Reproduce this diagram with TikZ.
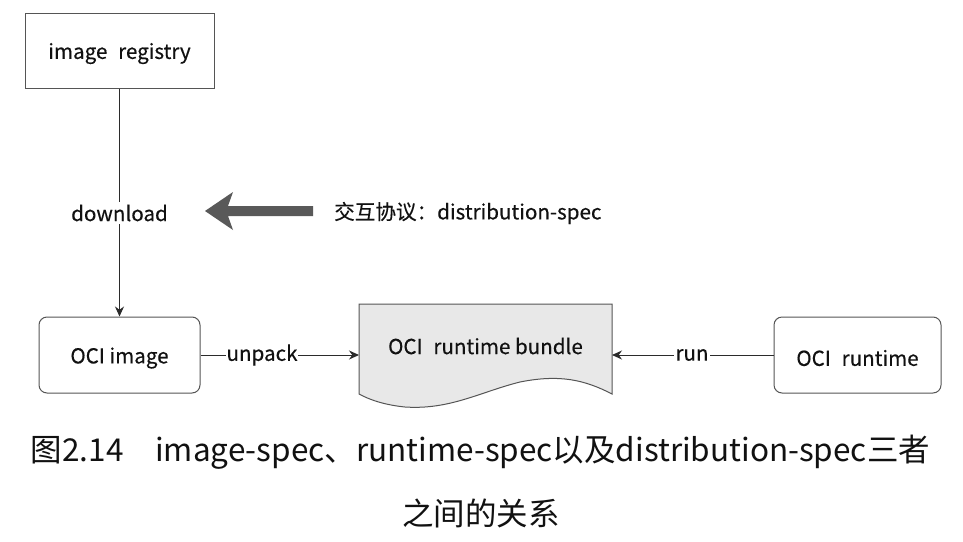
\documentclass[tikz,border=0pt]{standalone}
\usepackage{fontspec}
\setmainfont{Noto Sans CJK SC}
\newfontfamily\diagfont[FakeBold=0.35]{Noto Sans CJK SC}
\usetikzlibrary{arrows.meta}
\definecolor{linec}{HTML}{2B2B2B}
\definecolor{boxc}{HTML}{555555}
\definecolor{docfill}{HTML}{E8E8E8}
\definecolor{bigarrow}{HTML}{595959}
\definecolor{txt}{HTML}{111111}
\newcommand{\dn}[1]{\raisebox{-3pt}[\height][\depth]{#1}}
\begin{document}
\begin{tikzpicture}[x=1pt,y=-1pt,
  lbl/.style={font=\diagfont\fontsize{20.6}{24}\selectfont, text=txt, inner sep=1pt},
  sqbox/.style={draw=boxc, line width=1pt, fill=white, minimum width=189pt, minimum height=75pt, lbl},
  rbox/.style={draw=boxc, line width=1pt, fill=white, rounded corners=8pt, minimum height=76pt, lbl},
  conn/.style={draw=linec, line width=1pt, -{Stealth[length=10pt,width=9pt]}},
  onl/.style={lbl, fill=white, inner xsep=1pt, inner ysep=3pt},
  captext/.style={font=\fontsize{31.5}{36}\selectfont, text=txt, inner sep=0pt}]
\useasboundingbox (0,0) rectangle (963,541);
\fill[white] (0,0) rectangle (963,541);

\node[sqbox] (reg) at (119.5,50.5) {\dn{image\hspace{0.3em} registry}};
\node[rbox, minimum width=161pt] (img) at (119.5,355) {\dn{OCI image}};
\node[rbox, minimum width=167pt] (rt) at (857.5,355) {\dn{OCI\hspace{0.3em} runtime}};

% document shape
\coordinate (docL) at (359,355);
\coordinate (docR) at (612,355);
\draw[draw=boxc, line width=1pt, fill=docfill]
  (359,304) -- (612,304) -- (612,394)
  .. controls (585,380) and (560,374) .. (520,382)
  .. controls (480,392) and (450,410) .. (405,407)
  .. controls (385,405) and (370,400) .. (359,394) -- cycle;
\node[lbl] (bundle) at (485.5,343) {\dn{OCI\hspace{0.3em} runtime bundle}};

% connectors
\draw[conn] (reg.south) -- (img.north);
\node[onl] (dl) at (119.5,213) {download};
\draw[conn] (img.east) -- (docL);
\node[onl] (up) at (262,355) {unpack};
\draw[conn] (rt.west) -- (docR);
\node[onl] (run) at (692,355) {run};

% big arrow
\fill[bigarrow] (205,211) -- (233,192) -- (228,206) -- (313,206) -- (313,216) -- (228,216) -- (233,230) -- cycle;
\node[lbl, anchor=west] (proto) at (333,213) {交互协议：distribution-spec};

% caption
\node[captext] (cap1) at (480.5,452) {图2.14\hspace{1em}image-spec、runtime-spec以及distribution-spec三者};
\node[captext] (cap2) at (481,513) {之间的关系};
\end{tikzpicture}
\end{document}
